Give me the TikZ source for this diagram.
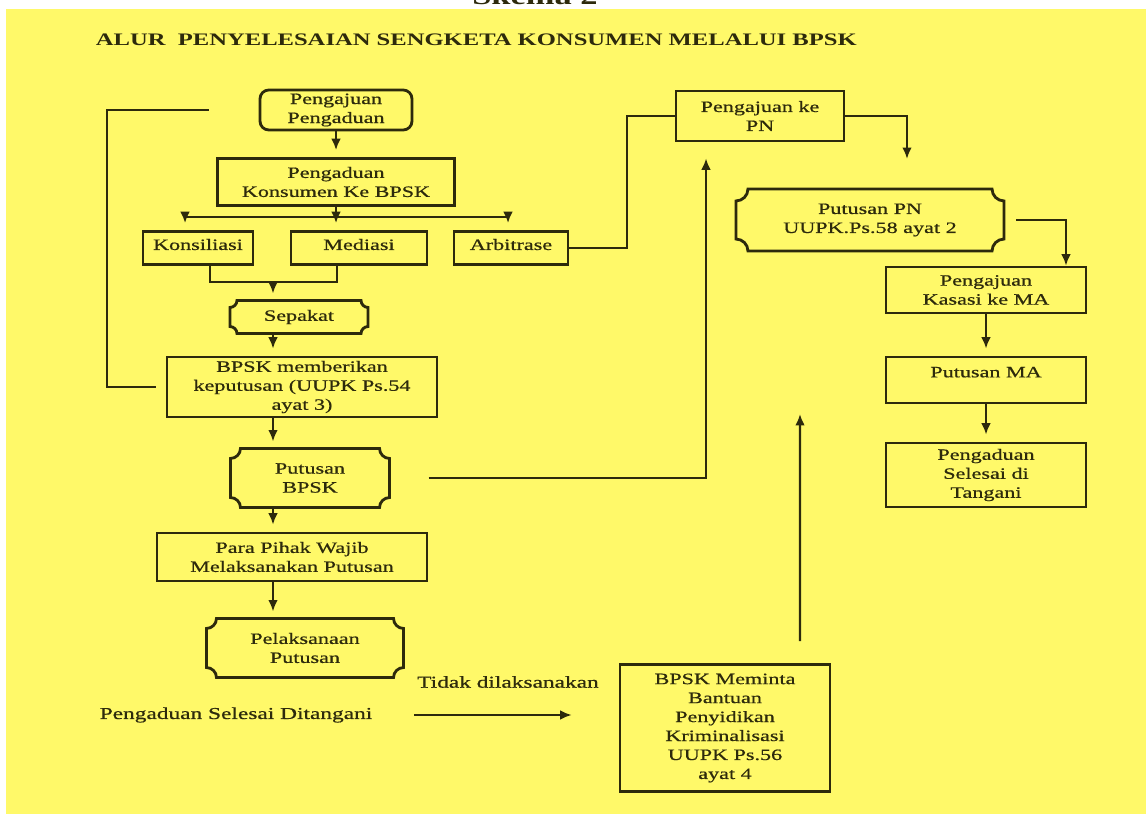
\documentclass[tikz,border=0pt]{standalone}
\usepackage{fontspec}
\setmainfont{Liberation Serif}[FakeStretch=1.4, UprightFeatures={FakeBold=0.7}]
\usetikzlibrary{arrows.meta,calc}
\definecolor{bgyel}{RGB}{255,249,105}
\definecolor{ink}{RGB}{45,42,12}
\newcommand{\bxfont}{\fontsize{9}{10.8}\selectfont}
% box with hollow (concave) corners
\newcommand{\plaque}[2]{%
  \draw[line width=1.6pt] ($(#1.north west)+(#2,0)$) -- ($(#1.north east)-(#2,0)$)
    arc[start angle=180, end angle=270, radius=#2] -- ($(#1.south east)+(0,#2)$)
    arc[start angle=90, end angle=180, radius=#2] -- ($(#1.south west)+(#2,0)$)
    arc[start angle=0, end angle=90, radius=#2] -- ($(#1.north west)-(0,#2)$)
    arc[start angle=270, end angle=360, radius=#2] -- cycle;}

\begin{document}
\begin{tikzpicture}[x=0.02cm, y=-0.02cm, line width=1.2pt, color=ink,
    box/.style={draw, line width=1.6pt, align=center, font=\bxfont, inner sep=1pt},
    plq/.style={align=center, font=\bxfont, inner sep=1pt},
    txt/.style={font=\fontsize{9.5}{11}\selectfont},
    arr/.style={-{Latex[length=6.5pt,width=5.5pt]}, shorten >=4pt}]
    \useasboundingbox (0,0) rectangle (1146,814);
    \fill[white] (0,0) rectangle (1146,814);
    \fill[bgyel] (6,9) rectangle (1150,820);
    \node[font=\fontsize{14}{16}\selectfont\bfseries, anchor=base] (skema) at (535,5) {Skema 2};
    \node[font=\fontsize{10}{12}\selectfont\bfseries, anchor=west] (judul) at (89,40)
        {ALUR\ \ PENYELESAIAN SENGKETA KONSUMEN MELALUI BPSK};

    % left column
    \node[box, rounded corners=5pt, minimum width=3.04cm, minimum height=0.8cm] (aju) at (336,110) {Pengajuan\\Pengaduan};
    \node[box, minimum width=4.74cm, minimum height=0.94cm] (kon) at (336,182) {Pengaduan\\Konsumen Ke BPSK};
    \node[box, text depth=4pt, minimum width=2.2cm, minimum height=0.66cm] (kons) at (198,248) {Konsiliasi};
    \node[box, text depth=4pt, minimum width=2.72cm, minimum height=0.66cm] (med) at (359,248) {Mediasi};
    \node[box, text depth=4pt, minimum width=2.28cm, minimum height=0.66cm] (arb) at (511,248) {Arbitrase};
    \node[plq, minimum width=2.72cm, minimum height=0.62cm] (sep) at (299,317) {Sepakat};
    \node[box, minimum width=5.4cm, minimum height=1.2cm] (kep) at (302,387) {BPSK memberikan\\keputusan (UUPK Ps.54\\ayat 3)};
    \node[plq, minimum width=3.14cm, minimum height=1.14cm] (pbp) at (310,478) {Putusan\\BPSK};
    \node[box, minimum width=5.4cm, minimum height=0.96cm] (wajib) at (292,557) {Para Pihak Wajib\\Melaksanakan Putusan};
    \node[plq, minimum width=3.9cm, minimum height=1.14cm] (pel) at (305,648) {Pelaksanaan\\Putusan};
    \node[txt] (tdk) at (508,682) {Tidak dilaksanakan};
    \node[txt] (sel) at (236,715) {Pengaduan Selesai Ditangani};
    \node[box, minimum width=4.2cm, minimum height=2.54cm] (mem) at (725,728)
        {BPSK Meminta\\Bantuan\\Penyidikan\\Kriminalisasi\\UUPK Ps.56\\ayat 4};

    % right column
    \node[box, minimum width=3.36cm, minimum height=1cm] (pn) at (760,116) {Pengajuan ke\\PN};
    \node[plq, minimum width=5.32cm, minimum height=1.2cm] (ppn) at (870,220) {Putusan PN\\UUPK.Ps.58 ayat 2};
    \node[box, minimum width=4cm, minimum height=0.92cm] (kas) at (986,290) {Pengajuan\\Kasasi ke MA};
    \node[box, text depth=9pt, minimum width=4cm, minimum height=0.92cm] (pma) at (986,380) {Putusan MA};
    \node[box, minimum width=4cm, minimum height=1.28cm] (sls) at (986,475) {Pengaduan\\Selesai di\\Tangani};

    \foreach \n/\r in {sep/0.14cm, pbp/0.2cm, pel/0.2cm, ppn/0.24cm}
        \plaque{\n}{\r};

    \coordinate (spl) at (336,217);
    \coordinate (mrg) at (273,282);
    \coordinate (fb) at (107,0);

    \draw[arr] (aju) -- (kon);
    \draw[arr] (kon) -- (med.north -| kon);
    \draw[arr] (spl) -| ([xshift=-0.26cm]kons.north);
    \draw[arr] (spl) -| ([xshift=-0.06cm]arb.north);
    \draw ([xshift=0.24cm]kons.south) |- (mrg) -| ([xshift=-0.44cm]med.south);
    \draw[arr] (mrg) -- (mrg |- sep.north);
    \draw[arr] (mrg |- sep.south) -- (mrg |- kep.north);
    \draw[arr] (mrg |- kep.south) -- (mrg |- pbp.north);
    \draw[arr] (mrg |- pbp.south) -- (mrg |- wajib.north);
    \draw[arr] (mrg |- wajib.south) -- (mrg |- pel.north);
    \draw[shorten <=0.2cm, shorten >=1cm] (kep.west) -- (kep.west -| fb) |- (aju.west);

    \draw (arb.east) -- ++(58,0) |- (pn.west);
    \draw[arr, shorten >=0.6cm] (pn.east) -| ([xshift=0.74cm]ppn.north);
    \draw[arr, shorten <=0.24cm, shorten >=0pt] (ppn.east) -| ([xshift=1.6cm]kas.north);
    \draw[arr] (kas) -- (pma);
    \draw[arr] (pma) -- (sls);
    \draw[arr, shorten <=0.78cm, shorten >=0.32cm] (pbp.east) -| ([xshift=-1.08cm]pn.south);
    \draw[arr, shorten <=0.44cm, shorten >=3.26cm] ([xshift=1.5cm]mem.north) -- ([xshift=-1.4cm]ppn.south);
    \draw[arr, shorten <=0.7cm, shorten >=0.94cm] (sel) -- (sel -| mem.west);
\end{tikzpicture}
\end{document}
